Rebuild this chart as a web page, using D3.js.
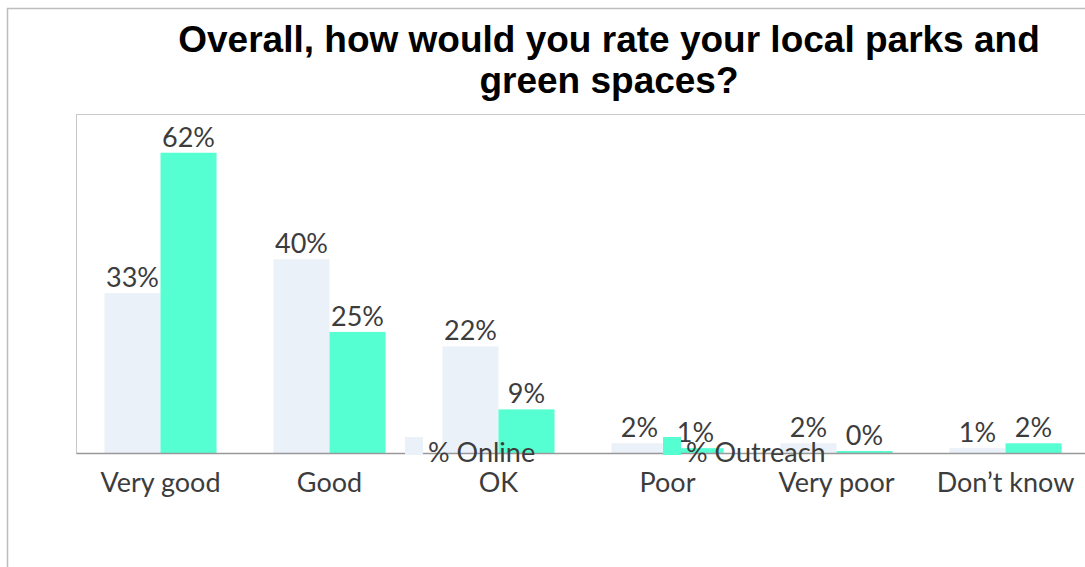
<!DOCTYPE html>
<html>
<head>
<meta charset="utf-8">
<script src="https://cdn.jsdelivr.net/npm/d3@7"></script>
<style>
  html, body { margin: 0; padding: 0; background: #fff; overflow: hidden; }
  svg { display: block; }
</style>
</head>
<body>
<svg id="chart" width="1085" height="567"></svg>
<script>
// Survey responses by channel
const categories = ["Very good", "Good", "OK", "Poor", "Very poor", "Don\u2019t know"];
const seriesNames = ["% Online", "% Outreach"];
const online = [33, 40, 22, 2, 2, 1];
const outreach = [62, 25, 9, 1, 0, 2];
const colors = ["#eaf1f8", "#55ffd2"];
const titleLines = ["Overall, how would you rate your local parks and", "green spaces?"];

const svg = d3.select("#chart");
const W = 1085, H = 567;

const plot = { left: 76, top: 114, right: 1090, bottom: 453 };
const labelFont = "Lato, 'Noto Sans', sans-serif";
const labelSize = 27;
const labelWeight = 400;
const textColor = "#3c3c3c";

// outer frame
svg.append("line").attr("x1", 7.5).attr("x2", 7.5).attr("y1", 8).attr("y2", H)
  .attr("stroke", "#bdbdbd").attr("stroke-width", 1.5);
svg.append("line").attr("x1", 7).attr("x2", W).attr("y1", 8.5).attr("y2", 8.5)
  .attr("stroke", "#bdbdbd").attr("stroke-width", 1.5);

// plot frame (open to the right edge)
svg.append("rect")
  .attr("x", plot.left + 0.5).attr("y", plot.top + 0.5)
  .attr("width", plot.right - plot.left + 20).attr("height", plot.bottom - plot.top)
  .attr("fill", "none").attr("stroke", "#c8c8c8").attr("stroke-width", 1);

// title
svg.append("text")
  .attr("x", 609).attr("y", 52)
  .attr("text-anchor", "middle")
  .attr("font-family", "'Liberation Sans', Arial, sans-serif")
  .attr("font-weight", "bold").attr("font-size", 37)
  .attr("fill", "#000")
  .selectAll("tspan").data(titleLines).join("tspan")
  .attr("x", 609).attr("dy", (d, i) => i === 0 ? 0 : 41)
  .text(d => d);

const x0 = d3.scaleBand().domain(categories)
  .range([plot.left, plot.right])
  .paddingInner(0.337).paddingOuter(0.1685);
const x1 = d3.scaleBand().domain(seriesNames).range([0, x0.bandwidth()]);
const y = d3.scaleLinear().domain([0, 70]).range([plot.bottom, plot.top]);

const rows = categories.map((c, i) => ({
  cat: c,
  values: [
    { key: seriesNames[0], v: online[i], color: colors[0] },
    { key: seriesNames[1], v: outreach[i], color: colors[1] }
  ]
}));

const groups = svg.append("g").selectAll("g").data(rows).join("g")
  .attr("transform", d => `translate(${x0(d.cat)},0)`);

groups.selectAll("rect").data(d => d.values).join("rect")
  .attr("x", d => x1(d.key))
  .attr("width", x1.bandwidth())
  .attr("y", d => Math.min(y(d.v), plot.bottom - 2))
  .attr("height", d => Math.max(plot.bottom - y(d.v), 2))
  .attr("fill", d => d.color);

groups.selectAll("text").data(d => d.values).join("text")
  .attr("x", d => x1(d.key) + x1.bandwidth() / 2)
  .attr("y", d => Math.min(y(d.v), plot.bottom - 2) - 6)
  .attr("text-anchor", "middle")
  .attr("font-family", labelFont).attr("font-size", labelSize)
  .attr("font-weight", labelWeight)
  .attr("fill", textColor)
  .text(d => d.v + "%");

// x axis
const xAxis = svg.append("g")
  .attr("transform", `translate(0,${plot.bottom})`)
  .call(d3.axisBottom(x0).tickSize(0).tickPadding(20));
xAxis.select(".domain").attr("stroke", "#999").attr("stroke-width", 1.5);
xAxis.selectAll("text")
  .attr("font-family", labelFont).attr("font-size", labelSize)
  .attr("font-weight", labelWeight)
  .attr("fill", textColor);

// legend, drawn across the baseline
const legendX = [405, 663];
const legend = svg.append("g").selectAll("g").data(seriesNames).join("g")
  .attr("transform", (d, i) => `translate(${legendX[i]},437)`);
legend.append("rect").attr("width", 18).attr("height", 18)
  .attr("fill", (d, i) => colors[i]);
legend.append("text").attr("x", 23).attr("y", 25)
  .attr("font-family", labelFont).attr("font-size", labelSize)
  .attr("font-weight", labelWeight)
  .attr("fill", textColor)
  .text(d => d);
</script>
</body>
</html>
